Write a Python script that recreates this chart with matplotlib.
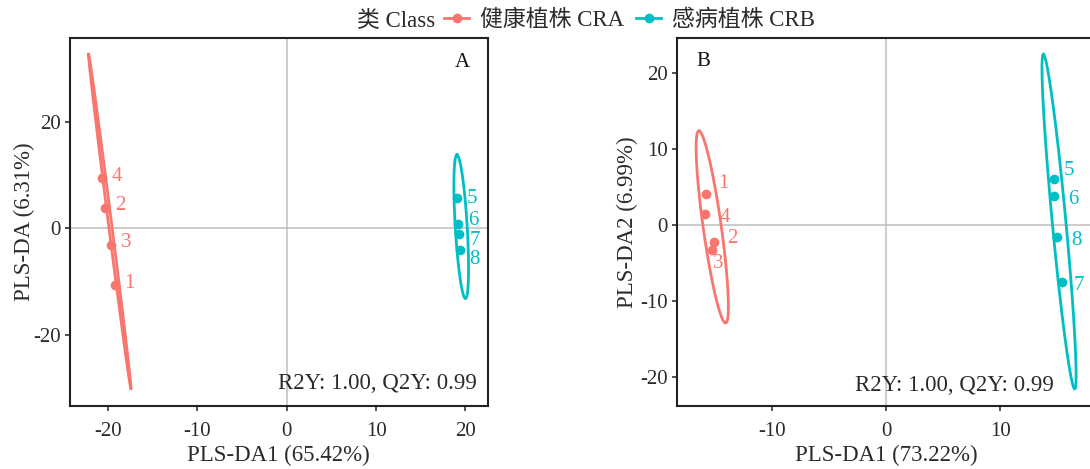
import matplotlib
matplotlib.use("Agg")
import matplotlib.pyplot as plt
import numpy as np
from matplotlib.lines import Line2D
from matplotlib.ticker import MultipleLocator

plt.rcParams['font.family'] = ['Liberation Serif', 'Noto Sans CJK SC']
plt.rcParams['axes.unicode_minus'] = False

# sample scores, panel A (PLS-DA on component 1 / 2)
samples = ['1', '2', '3', '4', '5', '6', '7', '8']
groups = ['CRA', 'CRA', 'CRA', 'CRA', 'CRB', 'CRB', 'CRB', 'CRB']
a_comp1 = [-19.26, -20.3, -19.69, -20.72, 19.05, 19.2, 19.33, 19.38]
a_comp2 = [-10.6, 3.8, -3.1, 9.4, 5.6, 0.85, -1.15, -4.0]

# sample scores, panel B
b_comp1 = [-15.73, -15.06, -15.27, -15.88, 14.73, 14.68, 15.45, 14.94]
b_comp2 = [4.03, -2.23, -3.28, 1.41, 6.1, 3.81, -7.5, -1.6]

# confidence ellipses: upper tip, lower tip, half width across the centre
a_ell_top = {'CRA': (-22.18, 32.6), 'CRB': (19.05, 13.75)}
a_ell_bottom = {'CRA': (-17.44, -30.15), 'CRB': (20.0, -13.2)}
a_ell_halfwidth = {'CRA': 0.18, 'CRB': 0.67}
b_ell_top = {'CRA': (-16.39, 12.35), 'CRB': (13.78, 22.43)}
b_ell_bottom = {'CRA': (-14.06, -12.92), 'CRB': (16.52, -21.6)}
b_ell_halfwidth = {'CRA': 0.8, 'CRB': 0.6}

group_names = {'CRA': '健康植株 CRA', 'CRB': '感病植株 CRB'}
colors = {'CRA': '#F8766D', 'CRB': '#00BFC4'}

# label offsets in pixels (dx right, dy down), repelled by hand
a_label_offsets = [(15, -1), (15, -2), (15, -2), (15, -2),
                   (15, 0), (15, -3), (15, 6), (15, 10)]
b_label_offsets = [(17, -11), (18, -3), (6, 14), (20, 3),
                   (15, -8), (20, 4), (16, 4), (20, 3)]

TXT = '#2b2b2b'
FS_TICK = 15
FS = 16.5


def ellipse_curve(top, bottom, half_width, n=300):
    top = np.asarray(top, float)
    bottom = np.asarray(bottom, float)
    c = (top + bottom) / 2
    a = (top - bottom) / 2
    b = np.array([half_width, 0.0])
    t = np.linspace(0, 2 * np.pi, n)
    pts = c[:, None] + a[:, None] * np.cos(t) + b[:, None] * np.sin(t)
    return pts[0], pts[1]


def draw_panel(ax, xs, ys, tops, bottoms, widths, offsets, tag, tag_xy,
               stats_xy, xlabel, ylabel, ystep, ypad):
    ax.axhline(0, color='#BEBEBE', lw=1.1, zorder=0)
    ax.axvline(0, color='#BEBEBE', lw=1.1, zorder=0)

    allx, ally = list(xs), list(ys)
    for g in ['CRA', 'CRB']:
        ex, ey = ellipse_curve(tops[g], bottoms[g], widths[g])
        ax.plot(ex, ey, color=colors[g], lw=2.0, zorder=2)
        allx += list(ex)
        ally += list(ey)

    for x, y, s, g, (dx, dy) in zip(xs, ys, samples, groups, offsets):
        ax.plot(x, y, 'o', color=colors[g], ms=6, zorder=3)
        ax.annotate(s, (x, y), xytext=(dx * 0.72, -dy * 0.72),
                    textcoords='offset points', ha='center', va='center',
                    color=colors[g], fontsize=FS_TICK)

    # ggplot style 5% expansion of the data range
    x0, x1 = min(allx), max(allx)
    y0, y1 = min(ally), max(ally)
    ax.set_xlim(x0 - 0.05 * (x1 - x0), x1 + 0.05 * (x1 - x0))
    ax.set_ylim(y0 - 0.05 * (y1 - y0), y1 + 0.05 * (y1 - y0))

    ax.xaxis.set_major_locator(MultipleLocator(10))
    ax.yaxis.set_major_locator(MultipleLocator(ystep))
    ax.tick_params(length=3.6, width=1.2, color='#333333',
                   labelsize=FS_TICK, labelcolor=TXT)
    ax.tick_params(axis='x', pad=8)
    ax.tick_params(axis='y', pad=3)
    for sp in ax.spines.values():
        sp.set_linewidth(1.5)
        sp.set_color('#222222')

    ax.text(tag_xy[0], tag_xy[1], tag, ha='center', va='center',
            fontsize=FS_TICK, color='#111111')
    ax.text(stats_xy[0], stats_xy[1], 'R2Y: 1.00, Q2Y: 0.99', ha='right',
            va='center', fontsize=FS, color=TXT)
    ax.set_xlabel(xlabel, fontsize=FS, color=TXT, labelpad=3)
    ax.set_ylabel(ylabel, fontsize=FS, color=TXT, labelpad=ypad)


fig = plt.figure(figsize=(10.9, 4.69), dpi=100)
ax_a = fig.add_axes([0.0638, 0.135, 0.3835, 0.7846])
ax_b = fig.add_axes([0.6212, 0.135, 0.3835, 0.7846])

draw_panel(ax_a, a_comp1, a_comp2, a_ell_top, a_ell_bottom, a_ell_halfwidth,
           a_label_offsets, 'A', (19.65, 31.0), (21.3, -29.2),
           'PLS-DA1 (65.42%)', 'PLS-DA (6.31%)', 20, -1.5)
draw_panel(ax_b, b_comp1, b_comp2, b_ell_top, b_ell_bottom, b_ell_halfwidth,
           b_label_offsets, 'B', (-16.0, 21.55), (14.73, -21.2),
           'PLS-DA1 (73.22%)', 'PLS-DA2 (6.99%)', 10, 1.5)

# shared legend across the top
fig.text(356.7 / 1090, 0.956, '类 Class', ha='left', va='center',
         fontsize=FS, color=TXT)
handles = [Line2D([], [], color=colors[g], lw=2, marker='o', ms=6)
           for g in ['CRA', 'CRB']]
fig.legend(handles, [group_names[g] for g in ['CRA', 'CRB']],
           loc='center left', bbox_to_anchor=(444 / 1090, 0.956),
           frameon=False, ncol=2, borderpad=0, borderaxespad=0,
           handlelength=1.1, handletextpad=0.45, columnspacing=0.55,
           fontsize=FS, labelcolor=TXT)

fig.savefig('out.png', dpi=100)
